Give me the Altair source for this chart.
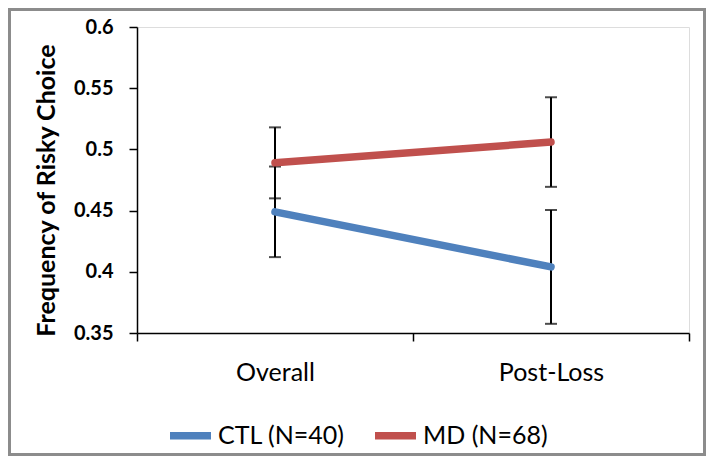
import altair as alt
import pandas as pd

categories = ["Overall", "Post-Loss"]
groups = ["CTL (N=40)", "MD (N=68)"]
ctl_mean = [0.449, 0.404]
ctl_err = [0.037, 0.0465]
md_mean = [0.489, 0.506]
md_err = [0.029, 0.0366]
y_ticks = [0.35, 0.4, 0.45, 0.5, 0.55, 0.6]
colors = ["#4F81BD", "#C0504D"]

rows = []
for g, means, errs in [(groups[0], ctl_mean, ctl_err), (groups[1], md_mean, md_err)]:
    for c, m, e in zip(categories, means, errs):
        rows.append({"cat": c, "group": g, "mean": m, "lo": m - e, "hi": m + e})
df = pd.DataFrame(rows)

FONT = "Lato"
W, H = 552, 306

x = alt.X("cat:N", sort=categories,
          scale=alt.Scale(paddingInner=0, paddingOuter=0),
          axis=alt.Axis(title=None, labelAngle=0, tickBand="extent",
                        labelFont=FONT, labelFontSize=25, labelColor="#000",
                        labelPadding=19, tickSize=8, tickWidth=1.5, tickColor="#000",
                        domainColor="#000", domainWidth=1.5, labelBaseline="top"))
yscale = alt.Scale(domain=[0.35, 0.6], nice=False, zero=False)
y = alt.Y("mean:Q", scale=yscale,
          axis=alt.Axis(title="Frequency of Risky Choice", values=y_ticks, format="~g",
                        grid=False, labelFont=FONT, labelFontSize=20, labelFontWeight="bold",
                        labelColor="#000", labelPadding=16, tickSize=8, tickWidth=1.5,
                        tickColor="#000", domainColor="#000", domainWidth=1.5,
                        titleFont=FONT, titleFontSize=25, titleFontWeight="bold",
                        titleColor="#000", titleAngle=-90, titleX=-91, titleY=163,
                        titleAlign="center", titleBaseline="middle"))

base = alt.Chart(df)

bars = base.mark_rule(color="#000", strokeWidth=2).encode(
    x=x, y=alt.Y("lo:Q", scale=yscale), y2="hi:Q")
caps_lo = base.mark_tick(color="#000", size=12, thickness=2, orient="horizontal").encode(
    x=x, y=alt.Y("lo:Q", scale=yscale))
caps_hi = base.mark_tick(color="#000", size=12, thickness=2, orient="horizontal").encode(
    x=x, y=alt.Y("hi:Q", scale=yscale))
lines = base.mark_line(strokeWidth=7.5, strokeCap="round", strokeJoin="round").encode(
    x=x, y=y,
    color=alt.Color("group:N", scale=alt.Scale(domain=groups, range=colors),
                    legend=alt.Legend(title=None, orient="none", direction="horizontal",
                                      legendX=29, legendY=384, padding=0,
                                      symbolType="stroke", symbolSize=1681,
                                      symbolStrokeWidth=7.5, labelFont=FONT,
                                      labelFontSize=25, labelColor="#000",
                                      labelOffset=3, columnPadding=15)))

border = alt.Chart(pd.DataFrame({"a": [0]})).mark_rect(
    fill=None, stroke="#8c8c8c", strokeWidth=3).encode(
    x=alt.value(-127.5), x2=alt.value(567.5), y=alt.value(-17.5), y2=alt.value(427.5))

chart = alt.layer(bars, caps_lo, caps_hi, lines, border).properties(
    width=W, height=H,
    autosize=alt.AutoSizeParams(type="none"),
    padding={"left": 129, "top": 19, "right": 17, "bottom": 123},
).configure_view(stroke=None).configure(background="white")

chart.save("out.html", embed_options={"renderer": "svg", "actions": False})
